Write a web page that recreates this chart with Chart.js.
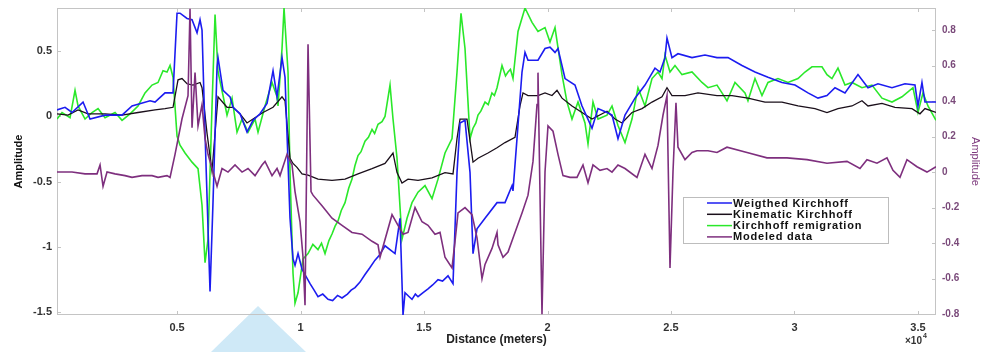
<!DOCTYPE html>
<html>
<head>
<meta charset="UTF-8">
<title>Amplitude vs distance</title>
<script src="https://cdn.jsdelivr.net/npm/chart.js"></script>
<style>
  html, body { margin: 0; background: #fff; }
  #wrap { width: 985px; height: 352px; position: relative; }
</style>
</head>
<body>
<div id="wrap"><canvas id="c"></canvas></div>
<script>
// distance (m) / amplitude pairs
const weightedX = [140,466,749,1194,1478,2085,2773,3178,3907,4109,4514,4838,5000,5121,5405,5607,5810,5931,6012,6134,6336,6458,6620,6660,6862,7146,7267,7551,7834,8077,8360,8644,8887,9049,9251,9372,9575,9696,9777,9899,10061,10385,10550,10708,10900,11113,11300,11500,11680,11900,12050,12206,12400,12611,12800,13016,13200,13421,13826,14028,14150,14231,14400,14514,14650,14757,14950,15162,15350,15567,15750,15972,16174,16336,16458,16660,16863,16984,17146,17470,17956,18279,18563,18603,18765,18968,19089,19211,19615,19899,20101,20304,20425,20709,21113,21397,21802,22045,22409,22612,22854,23138,23543,23947,24352,24555,24757,24838,25040,25283,25850,26376,26862,27308,27874,28401,28927,29494,30020,30547,30951,31316,31640,32045,32571,32976,33381,33948,34474,34879,35000,35162,35284,35730];
const weightedY = [0.05,0.07,0.03,0.11,-0.02,0.01,0.01,0.08,0.12,0.11,0.18,0.18,0.79,0.79,0.75,0.74,0.64,0.74,0.66,-0.13,-1.34,-0.65,0.38,0.45,0.20,0.15,0.07,0.02,-0.12,-0.03,0.02,0.10,0.35,0.15,0.45,0.30,-0.78,-1.09,-1.14,-1.05,-1.17,-1.28,-1.33,-1.38,-1.36,-1.40,-1.41,-1.37,-1.39,-1.36,-1.33,-1.31,-1.27,-1.21,-1.16,-1.10,-1.06,-0.99,-1.05,-0.78,-1.52,-1.35,-1.38,-1.40,-1.36,-1.38,-1.35,-1.32,-1.29,-1.25,-1.26,-1.22,-1.28,-0.43,-0.05,-0.03,-0.43,-1.05,-0.86,-0.78,-0.66,-0.66,-0.53,-0.57,-0.17,0.34,0.49,0.43,0.43,0.52,0.53,0.49,0.52,0.29,0.24,0.08,-0.09,0.06,0.03,0.01,-0.17,0.01,0.14,0.24,0.37,0.34,0.45,0.60,0.45,0.48,0.45,0.47,0.45,0.45,0.39,0.34,0.30,0.26,0.24,0.18,0.14,0.16,0.22,0.18,0.32,0.22,0.25,0.22,0.25,0.24,0.08,0.26,0.11,0.11];

const kinematicX = [140,587,992,1397,2085,2773,3421,4109,4514,4838,5040,5202,5405,5648,5931,6012,6215,6417,6539,6660,7024,7267,7551,7834,8077,8482,8887,9251,9372,9575,9696,9858,10061,10304,10708,11275,11802,12328,12895,13421,13745,13907,14109,14352,14757,15324,15850,16174,16336,16458,16741,16984,17186,17591,17956,18279,18684,18887,19008,19211,19615,19899,20182,20385,20587,20992,21397,21802,22409,22733,23016,23421,23826,24231,24636,24838,25040,25567,26093,26862,27470,28117,28806,29494,30142,30830,31316,31761,32328,32733,32976,33543,34069,34757,35081,35284,35730];
const kinematicY = [0.02,0.01,0.05,0.02,0.02,0.01,0.03,0.05,0.06,0.07,0.28,0.29,0.25,0.24,0.26,0.22,-0.13,-0.42,-0.13,0.15,0.07,0.07,0.02,-0.05,-0.02,0.03,0.07,0.15,0.12,-0.32,-0.36,-0.39,-0.44,-0.45,-0.48,-0.49,-0.48,-0.44,-0.40,-0.36,-0.28,-0.43,-0.51,-0.48,-0.49,-0.47,-0.43,-0.44,-0.17,-0.02,-0.02,-0.35,-0.32,-0.28,-0.24,-0.20,-0.16,0.08,0.18,0.16,0.16,0.18,0.16,0.20,0.14,0.08,0.03,-0.02,0.04,-0.02,-0.05,0.03,0.06,0.11,0.15,0.22,0.16,0.16,0.18,0.16,0.16,0.14,0.11,0.11,0.08,0.06,0.03,0.06,0.08,0.12,0.08,0.10,0.07,0.06,0.02,0.06,0.03];

const remigrationX = [140,344,668,870,992,1275,1559,1802,2085,2490,2773,3097,3421,3704,3988,4231,4433,4595,4717,4838,5000,5121,5324,5607,5850,6012,6134,6255,6417,6539,6660,6862,7024,7227,7429,7632,7874,8158,8279,8563,8846,9049,9089,9251,9332,9494,9575,9696,9777,9899,10101,10304,10500,10708,10850,10992,11150,11275,11400,11518,11650,11802,11950,12085,12200,12328,12450,12611,12750,12895,13000,13138,13300,13421,13624,13745,13907,14109,14312,14514,14757,15040,15324,15567,15850,16134,16336,16498,16660,16863,16984,17100,17186,17300,17470,17600,17750,17850,17956,18158,18300,18401,18500,18603,18806,19089,19373,19615,19899,20101,20304,20587,20790,20992,21235,21518,21640,21842,22045,22409,22612,22854,23138,23421,23664,23947,24231,24474,24636,24757,24960,25162,25445,25850,26255,26498,26862,27065,27267,27591,27996,28117,28401,28684,28927,29332,29737,30142,30425,30709,31113,31316,31518,31761,32045,32328,32733,33138,33543,33948,34353,34798,35000,35203,35405,35730];
const remigrationY = [-0.02,0.03,-0.01,0.20,0.08,-0.02,0.03,0.06,-0.01,0.03,-0.03,0.02,0.08,0.18,0.24,0.26,0.35,0.34,0.39,0.30,-0.15,-0.22,-0.28,-0.35,-0.40,-0.68,-1.12,-0.94,0.08,0.78,0.34,0.16,0.01,0.14,-0.12,-0.02,-0.12,-0.02,-0.12,0.08,0.26,0.15,0.08,0.52,0.83,0.34,-0.43,-1.20,-1.43,-1.35,-1.09,-1.05,-0.98,-1.02,-0.97,-1.05,-0.95,-0.90,-0.84,-0.80,-0.72,-0.66,-0.55,-0.48,-0.38,-0.30,-0.27,-0.19,-0.16,-0.10,-0.13,-0.06,-0.04,0.00,0.24,-0.02,-0.32,-0.94,-0.78,-0.66,-0.58,-0.53,-0.63,-0.48,-0.28,-0.17,0.34,0.79,0.52,-0.17,-0.09,-0.05,0.01,0.04,0.11,0.09,0.18,0.16,0.22,0.39,0.31,0.34,0.36,0.29,0.65,0.83,0.72,0.65,0.68,0.57,0.68,0.32,0.11,-0.02,0.11,-0.05,-0.21,0.11,-0.02,0.01,0.08,-0.07,-0.20,-0.02,0.22,0.08,0.29,0.34,0.29,0.47,0.34,0.39,0.32,0.34,0.26,0.22,0.24,0.18,0.12,0.26,0.18,0.12,0.29,0.16,0.26,0.29,0.26,0.29,0.34,0.38,0.38,0.32,0.29,0.37,0.24,0.26,0.22,0.24,0.14,0.11,0.15,0.22,0.03,0.18,0.08,-0.03];

const modeledX = [140,749,1275,1761,1883,2004,2166,2490,2895,3178,3583,3988,4231,4595,4717,4919,5202,5445,5526,5607,5729,5850,6012,6134,6255,6458,6620,6822,7065,7348,7632,7874,8158,8441,8563,8846,9049,9170,9453,9656,9777,9980,10101,10182,10304,10425,10506,10870,11275,11680,12085,12490,12895,13138,13219,13705,13947,14150,14352,14636,14919,15162,15445,15648,15850,16134,16255,16377,16660,16944,17146,17348,17470,17753,17956,17996,18198,18401,18684,18968,19211,19413,19575,19615,19777,19899,20020,20223,20425,20628,20911,21194,21437,21640,21842,22126,22409,22612,22854,23138,23623,23947,24231,24474,24676,24838,24960,25081,25202,25283,25567,25850,26052,26498,26862,27267,28077,28887,29696,30506,31316,32126,32652,32935,33340,33745,33988,34272,34555,34960,35364,35730];
const modeledY = [0.00,0.00,-0.01,-0.01,0.04,-0.08,0.00,-0.01,-0.02,-0.03,-0.02,-0.02,-0.03,-0.02,-0.03,0.10,0.30,0.43,0.92,0.25,0.56,0.26,0.38,0.19,0.10,0.00,-0.08,0.02,0.00,0.04,0.00,0.02,-0.02,0.04,0.06,-0.02,0.02,-0.02,0.10,0.04,-0.11,-0.28,-0.48,-0.75,0.72,-0.11,-0.13,-0.19,-0.26,-0.30,-0.34,-0.35,-0.39,-0.41,-0.48,-0.24,-0.30,-0.35,-0.34,-0.20,-0.28,-0.30,-0.35,-0.34,-0.48,-0.54,-0.39,-0.23,-0.20,-0.24,-0.37,-0.60,-0.52,-0.43,-0.34,-0.41,-0.48,-0.45,-0.34,-0.23,-0.13,0.06,0.38,0.56,-0.80,0.00,0.26,0.23,0.10,-0.02,-0.03,-0.03,0.04,-0.06,0.04,0.01,0.02,0.00,0.04,0.02,-0.03,0.10,0.02,0.15,0.32,0.43,-0.54,0.00,0.39,0.14,0.07,0.11,0.12,0.12,0.11,0.14,0.11,0.08,0.08,0.07,0.05,0.06,0.02,0.07,0.05,0.08,0.01,-0.03,0.07,0.03,0.00,0.03];

const seriesNames = ['Weigthed Kirchhoff', 'Kinematic Kirchhoff', 'Kirchhoff remigration', 'Modeled data'];
const leftTicks = [-1.5, -1, -0.5, 0, 0.5];
const rightTicks = [-0.8, -0.6, -0.4, -0.2, 0, 0.2, 0.4, 0.6, 0.8];
const xTicks = [5000, 10000, 15000, 20000, 25000, 30000, 35000];

const pts = (xs, ys) => xs.map((x, i) => ({ x, y: ys[i] }));
const FONT = 'Liberation Sans, Arial, sans-serif';

// MATLAB-ish frame, inward tick marks, watermark, legend box
const framePlugin = {
  id: 'frame',
  beforeDraw(chart) {
    const c = chart.ctx;
    c.save();
    c.fillStyle = '#cfe9f7';
    c.beginPath();
    c.moveTo(258, 306); c.lineTo(306, 352); c.lineTo(211, 352); c.closePath();
    c.fill();
    c.restore();
  },
  beforeDatasetsDraw(chart) {
    const { ctx: c, chartArea: a, scales } = chart;
    c.save();
    c.strokeStyle = '#c4c4c4';
    c.lineWidth = 1;
    c.strokeRect(a.left + 0.5, a.top + 0.5, a.right - a.left - 1, a.bottom - a.top - 1);
    c.beginPath();
    xTicks.forEach(v => {
      const px = Math.round(scales.x.getPixelForValue(v)) + 0.5;
      c.moveTo(px, a.bottom); c.lineTo(px, a.bottom - 4);
      c.moveTo(px, a.top); c.lineTo(px, a.top + 4);
    });
    leftTicks.forEach(v => {
      const py = Math.round(scales.y.getPixelForValue(v)) + 0.5;
      c.moveTo(a.left, py); c.lineTo(a.left + 4, py);
    });
    rightTicks.forEach(v => {
      const py = Math.round(scales.y2.getPixelForValue(v)) + 0.5;
      c.moveTo(a.right, py); c.lineTo(a.right - 4, py);
    });
    c.stroke();
    c.restore();
  },
  afterDraw(chart) {
    const { ctx: c, chartArea: a } = chart;
    c.save();
    // exponent label
    c.fillStyle = '#333';
    c.font = 'bold 10px ' + FONT;
    c.textBaseline = 'middle';
    c.fillText('\u00d710', a.right - 31, 341);
    c.font = 'bold 7px ' + FONT;
    c.fillText('4', a.right - 13, 336);
    // legend inside the axes
    const lx = a.left + 626, ly = a.top + 189, lw = 205, lh = 46;
    c.fillStyle = '#fff';
    c.fillRect(lx, ly, lw, lh);
    c.strokeStyle = '#bdbdbd';
    c.lineWidth = 1;
    c.strokeRect(lx + 0.5, ly + 0.5, lw, lh);
    c.font = 'bold 11px ' + FONT;
    c.letterSpacing = '0.8px';
    chart.data.datasets.forEach((ds, i) => {
      const y = ly + 6 + i * 11.3;
      c.strokeStyle = ds.borderColor;
      c.lineWidth = 1.5;
      c.beginPath(); c.moveTo(lx + 24, y); c.lineTo(lx + 49, y); c.stroke();
      c.fillStyle = '#111';
      c.fillText(ds.label, lx + 50, y + 0.5);
    });
    c.restore();
  }
};

const noPad = s => { s.paddingTop = 0; s.paddingBottom = 0; };

new Chart(document.getElementById('c'), {
  type: 'line',
  data: {
    datasets: [
      { label: seriesNames[0], data: pts(weightedX, weightedY), borderColor: '#1c1cf0', borderWidth: 1.6, yAxisID: 'y', order: 1 },
      { label: seriesNames[1], data: pts(kinematicX, kinematicY), borderColor: '#1a0f1a', borderWidth: 1.3, yAxisID: 'y', order: 2 },
      { label: seriesNames[2], data: pts(remigrationX, remigrationY), borderColor: '#2ae82a', borderWidth: 1.6, yAxisID: 'y', order: 3 },
      { label: seriesNames[3], data: pts(modeledX, modeledY), borderColor: '#7e2f7e', borderWidth: 1.6, yAxisID: 'y2', order: 0 }
    ]
  },
  plugins: [framePlugin],
  options: {
    responsive: true,
    maintainAspectRatio: false,
    animation: false,
    layout: { padding: { top: 8, left: 0, right: 0, bottom: 0 } },
    elements: { point: { radius: 0 }, line: { tension: 0 } },
    plugins: { legend: { display: false }, tooltip: { enabled: false } },
    scales: {
      x: {
        type: 'linear', min: 140, max: 35730,
        afterBuildTicks: s => { s.ticks = xTicks.map(v => ({ value: v })); },
        afterFit: s => { s.height = 37; s.paddingLeft = 0; s.paddingRight = 0; },
        grid: { display: false, drawTicks: false },
        border: { display: false },
        ticks: { color: '#333', padding: 6, font: { family: FONT, size: 11, weight: 'bold' }, callback: v => String(v / 10000) },
        title: { display: true, text: 'Distance (meters)', color: '#222', padding: { top: 0, bottom: 5 }, font: { family: FONT, size: 12, weight: 'bold' } }
      },
      y: {
        position: 'left', min: -1.52, max: 0.83,
        afterBuildTicks: s => { s.ticks = leftTicks.map(v => ({ value: v })); },
        afterFit: s => { s.width = 57; noPad(s); },
        grid: { display: false, drawTicks: false },
        border: { display: false },
        ticks: { color: '#333', padding: 5, font: { family: FONT, size: 11, weight: 'bold' }, callback: v => String(v) },
        title: { display: true, text: 'Amplitude', color: '#111', padding: { top: 12, bottom: 0 }, font: { family: FONT, size: 11, weight: 'bold' } }
      },
      y2: {
        position: 'right', min: -0.805, max: 0.924,
        afterBuildTicks: s => { s.ticks = rightTicks.map(v => ({ value: v })); },
        afterFit: s => { s.width = 49; noPad(s); },
        grid: { display: false, drawTicks: false },
        border: { display: false },
        ticks: { color: '#7a4a7a', padding: 6, font: { family: FONT, size: 10, weight: 'bold' }, callback: v => String(Math.round(v * 10) / 10) },
        title: { display: true, text: 'Amplitude', color: '#7e3a7e', padding: { top: 3, bottom: 0 }, font: { family: FONT, size: 11 } }
      }
    }
  }
});
</script>
</body>
</html>
